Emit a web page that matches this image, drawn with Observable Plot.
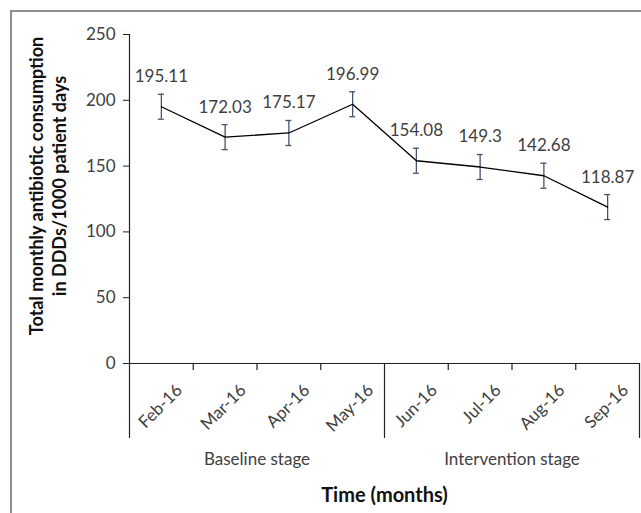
<!DOCTYPE html>
<html>
<head>
<meta charset="utf-8">
<script src="https://cdn.jsdelivr.net/npm/d3@7"></script>
<script src="https://cdn.jsdelivr.net/npm/@observablehq/plot@0.6"></script>
<style>
  html, body { margin: 0; padding: 0; background: #fff; }
  #wrap { position: relative; width: 641px; height: 513px; overflow: hidden; }
  #border { position: absolute; left: 10px; top: 10px; width: 700px; height: 600px;
            border-left: 2px solid #8f8f8f; border-top: 2px solid #8f8f8f; pointer-events: none; }
</style>
</head>
<body>
<div id="wrap"><div id="border"></div></div>
<script>
const months = ["Feb-16", "Mar-16", "Apr-16", "May-16", "Jun-16", "Jul-16", "Aug-16", "Sep-16"];
const values = [195.11, 172.03, 175.17, 196.99, 154.08, 149.3, 142.68, 118.87];
const errors = [9.5, 9.5, 9.5, 9.5, 9.5, 9.5, 9.5, 9.5];
const stages = ["Baseline stage", "Intervention stage"];
const stageSpans = [[0, 4], [4, 8]];
const yTicks = [0, 50, 100, 150, 200, 250];
const yTitle = ["Total monthly antibiotic consumption", "in DDDs/1000 patient days"];
const xTitle = "Time (months)";

const data = months.map((m, i) => ({month: m, i, c: i + 0.5, v: values[i], lo: values[i] - errors[i], hi: values[i] + errors[i]}));
const stageData = stages.map((s, k) => ({s, c: (stageSpans[k][0] + stageSpans[k][1]) / 2}));
const boundaries = [0, 4, 8];
const minorTicks = d3.range(1, months.length).filter(i => !boundaries.includes(i));

const txt = "#404040";
const fs = 17;
const chart = Plot.plot({
  width: 641,
  height: 513,
  marginLeft: 129,
  marginRight: 2,
  marginTop: 34,
  marginBottom: 150,
  style: {fontFamily: "Lato, 'Open Sans', sans-serif", fontSize: fs + "px", background: "transparent", overflow: "visible"},
  x: {domain: [0, months.length], axis: null},
  y: {domain: [0, 250], axis: null},
  marks: [
    Plot.axisY({ticks: yTicks, tickSize: 6, tickPadding: 8, fontSize: fs, color: txt, stroke: "#222", label: null}),
    Plot.ruleY([0], {stroke: "#222", strokeWidth: 1.2}),
    Plot.ruleX([0], {stroke: "#222", strokeWidth: 1.2, insetBottom: -75}),
    Plot.ruleX(boundaries.slice(1), {stroke: "#222", strokeWidth: 1.2, insetTop: 329, insetBottom: -75}),
    Plot.ruleX(minorTicks, {stroke: "#222", strokeWidth: 1.2, insetTop: 329, insetBottom: -7}),
    Plot.text(data, {x: "c", text: "month", frameAnchor: "bottom", rotate: -45, textAnchor: "end", lineAnchor: "middle", dx: 18, dy: 24, fill: txt, fontSize: fs}),
    Plot.text(stageData, {x: "c", text: "s", frameAnchor: "bottom", lineAnchor: "middle", dy: 96, fill: txt, fontSize: fs}),
    Plot.text([xTitle], {x: months.length / 2, text: d => d, frameAnchor: "bottom", lineAnchor: "middle", dy: 132, fill: "#111", fontSize: 20, fontWeight: "bold"}),
    Plot.text([yTitle[0]], {text: d => d, frameAnchor: "left", rotate: -90, lineAnchor: "middle", textAnchor: "middle", dx: -92, dy: -13, fill: "#111", fontSize: 18, fontWeight: "bold"}),
    Plot.text([yTitle[1]], {text: d => d, frameAnchor: "left", rotate: -90, lineAnchor: "middle", textAnchor: "middle", dx: -69, dy: -13, fill: "#111", fontSize: 18, fontWeight: "bold"}),
    Plot.ruleX(data, {x: "c", y1: "lo", y2: "hi", stroke: "#44546a", strokeWidth: 1.3}),
    Plot.ruleY(data, {x1: "c", x2: "c", y: "lo", stroke: "#44546a", strokeWidth: 1.3, insetLeft: -3, insetRight: -3}),
    Plot.ruleY(data, {x1: "c", x2: "c", y: "hi", stroke: "#44546a", strokeWidth: 1.3, insetLeft: -3, insetRight: -3}),
    Plot.line(data, {x: "c", y: "v", stroke: "#000", strokeWidth: 1.3}),
    Plot.text(data, {x: "c", y: "v", text: d => String(d.v), dy: -30, lineAnchor: "middle", fill: txt, fontSize: fs})
  ]
});
document.getElementById("wrap").appendChild(chart);
</script>
</body>
</html>
